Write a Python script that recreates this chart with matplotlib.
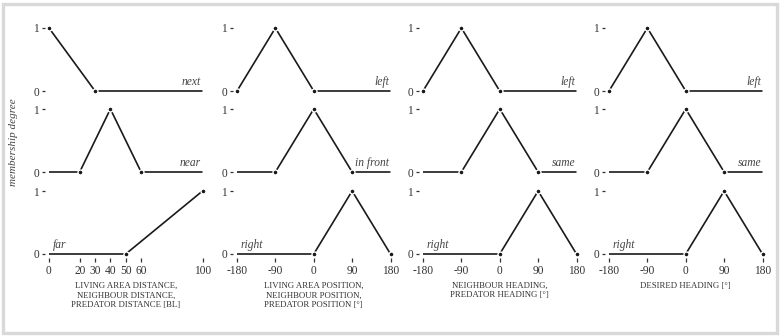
import matplotlib
matplotlib.use("Agg")
import matplotlib.pyplot as plt
from matplotlib.patches import Rectangle

# ---------------- data ----------------
dist_ticks = [0, 20, 30, 40, 50, 60, 100]
angle_ticks = [-180, -90, 0, 90, 180]

dist_next_x = [0, 30, 100]
dist_next_y = [1, 0, 0]
dist_near_x = [0, 20, 40, 60, 100]
dist_near_y = [0, 0, 1, 0, 0]
dist_far_x = [0, 50, 100]
dist_far_y = [0, 0, 1]

ang_left_x = [-180, -90, 0, 180]
ang_left_y = [0, 1, 0, 0]
ang_mid_x = [-180, -90, 0, 90, 180]
ang_mid_y = [0, 0, 1, 0, 0]
ang_right_x = [-180, 0, 90, 180]
ang_right_y = [0, 0, 1, 0]

col1_labels = ["next", "near", "far"]
col2_labels = ["left", "in front", "right"]
col3_labels = ["left", "same", "right"]
col4_labels = ["left", "same", "right"]

xlabels = [
    "LIVING AREA DISTANCE,\nNEIGHBOUR DISTANCE,\nPREDATOR DISTANCE [BL]",
    "LIVING AREA POSITION,\nNEIGHBOUR POSITION,\nPREDATOR POSITION [°]",
    "NEIGHBOUR HEADING,\nPREDATOR HEADING [°]",
    "DESIRED HEADING [°]",
]
ylabel = "membership degree"

# ---------------- layout ----------------
W, H = 780, 336
plt.rcParams['font.family'] = ['Liberation Serif', 'DejaVu Serif']
fig = plt.figure(figsize=(W / 100, H / 100), dpi=100)

col_data_start = [49, 237, 423, 609]   # px of data min
data_span = 153.5                        # px of data range
left_pad = 4                             # px between axis edge and data min
row_y1 = [28, 109, 191]                  # px of y=1
row_h = 63                               # px per unit y
ybot = -0.07

columns = [
    (dist_ticks, (0, 100),
     [(dist_next_x, dist_next_y), (dist_near_x, dist_near_y), (dist_far_x, dist_far_y)],
     col1_labels),
    (angle_ticks, (-180, 180),
     [(ang_left_x, ang_left_y), (ang_mid_x, ang_mid_y), (ang_right_x, ang_right_y)],
     col2_labels),
    (angle_ticks, (-180, 180),
     [(ang_left_x, ang_left_y), (ang_mid_x, ang_mid_y), (ang_right_x, ang_right_y)],
     col3_labels),
    (angle_ticks, (-180, 180),
     [(ang_left_x, ang_left_y), (ang_mid_x, ang_mid_y), (ang_right_x, ang_right_y)],
     col4_labels),
]

line_col = '#1a1a1a'
text_col = '#333333'

for c, (ticks, (xmin, xmax), series, labels) in enumerate(columns):
    unit = data_span / (xmax - xmin)
    pad_data = left_pad / unit
    ax_left_px = col_data_start[c] - left_pad
    ax_w_px = data_span + left_pad
    for r in range(3):
        top_px = row_y1[r]
        h_px = row_h * (1 - ybot)
        ax = fig.add_axes([ax_left_px / W, 1 - (top_px + h_px) / H,
                           ax_w_px / W, h_px / H])
        ax.set_xlim(xmin - pad_data, xmax)
        ax.set_ylim(ybot, 1)
        for s in ax.spines.values():
            s.set_visible(False)
        xs, ys = series[r]
        ax.plot(xs, ys, color=line_col, lw=1.2, clip_on=False,
                solid_capstyle='butt', zorder=2)
        # dots at vertices adjacent to a sloped segment
        dx, dy = [], []
        for i in range(len(xs)):
            sloped = False
            if i > 0 and ys[i - 1] != ys[i]:
                sloped = True
            if i < len(xs) - 1 and ys[i + 1] != ys[i]:
                sloped = True
            if sloped:
                dx.append(xs[i]); dy.append(ys[i])
        ax.plot(dx, dy, ls='none', marker='o', ms=3.6, mfc=line_col,
                mec='white', mew=1.0, clip_on=False, zorder=3)
        # label
        lab = labels[r]
        if r == 2:
            ax.annotate(lab, xy=(xmin, 0), xytext=(2.5, 2.5),
                        textcoords='offset points', ha='left', va='bottom',
                        fontsize=8.3, style='italic', color='#444444')
        else:
            ax.annotate(lab, xy=(xmax, 0), xytext=(-1, 2.5),
                        textcoords='offset points', ha='right', va='bottom',
                        fontsize=8.3, style='italic', color='#444444')
        ax.set_yticks([0, 1])
        ax.set_yticklabels(['0', '1'])
        ax.tick_params(axis='y', length=2.4, width=0.9, pad=2.0,
                       color='#333333', labelcolor=text_col, labelsize=8.3)
        if r == 2:
            ax.set_xticks(ticks)
            ax.set_xticklabels([str(t) for t in ticks])
            ax.tick_params(axis='x', length=3, width=0.9, pad=1.5,
                           color='#333333', labelcolor=text_col, labelsize=8.3)
            ax.set_xlabel(xlabels[c], fontsize=6.3, color=text_col,
                          linespacing=1.2, labelpad=4)
            ax.xaxis.label.set_x((pad_data + (xmax - xmin) / 2) /
                                 (xmax - xmin + pad_data))
        else:
            ax.set_xticks([])
        ax.patch.set_visible(False)

fig.text(14 / W, 1 - 142 / H, ylabel, rotation=90, ha='center', va='center',
         fontsize=8, style='italic', color='#444444')

fig.patches.append(Rectangle((3.5 / W, 3.5 / H), 1 - 7 / W, 1 - 7 / H,
                             transform=fig.transFigure, fill=False,
                             edgecolor='#d9d9d9', linewidth=2.4, zorder=0))

fig.savefig("out.png", dpi=100)
